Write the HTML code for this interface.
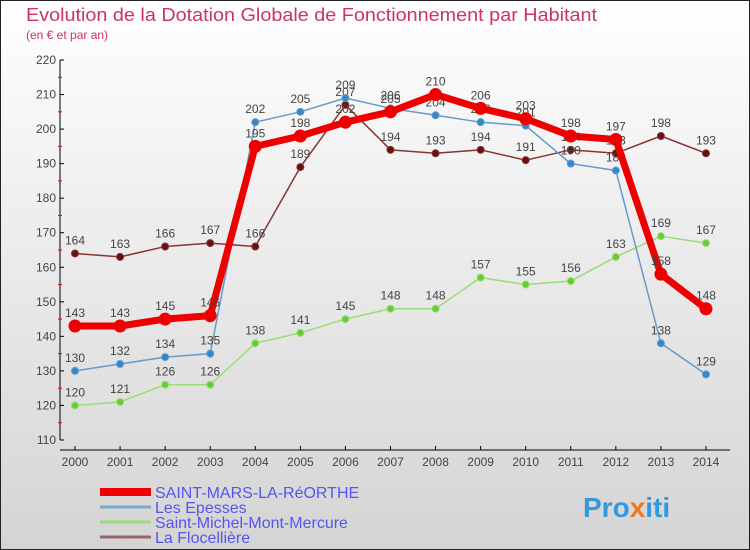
<!DOCTYPE html>
<html><head><meta charset="utf-8"><style>
body{margin:0;width:750px;height:550px;overflow:hidden;font-family:"Liberation Sans",sans-serif}
svg{display:block}
</style></head><body>
<svg id="c" width="750" height="550" xmlns="http://www.w3.org/2000/svg">
<defs><linearGradient id="bg" x1="0" y1="0" x2="0" y2="1"><stop offset="0" stop-color="#ffffff"/><stop offset="1" stop-color="#d4d4d4"/></linearGradient></defs>
<rect x="0.5" y="0.5" width="749" height="549" fill="url(#bg)" stroke="#222"/>
<text x="26" y="21" font-size="18" fill="#cc3366" textLength="571" lengthAdjust="spacingAndGlyphs">Evolution de la Dotation Globale de Fonctionnement par Habitant</text>
<text x="26" y="39" font-size="12" fill="#cc3366">(en € et par an)</text>
<g id="axes"></g><g id="series"></g><g id="legend"></g>
<text x="583" y="517" font-size="28" font-weight="bold" fill="#3399dd">Pro<tspan fill="#ee7722">x</tspan>iti</text>
</svg>
<script>
const years=[2000,2001,2002,2003,2004,2005,2006,2007,2008,2009,2010,2011,2012,2013,2014];
const yTicks=[110,120,130,140,150,160,170,180,190,200,210,220];
const saintMars=[143,143,145,146,195,198,202,205,210,206,203,198,197,158,148];
const lesEpesses=[130,132,134,135,202,205,209,206,204,202,201,190,188,138,129];
const saintMichel=[120,121,126,126,138,141,145,148,148,157,155,156,163,169,167];
const flocelliere=[164,163,166,167,166,189,207,194,193,194,191,194,193,198,193];
const seriesNames=["SAINT-MARS-LA-RéORTHE","Les Epesses","Saint-Michel-Mont-Mercure","La Flocellière"];
const NS="http://www.w3.org/2000/svg";
const X=i=>75+i*45.07;
const Y=v=>60+(220-v)*380/110;
function mk(tag,attrs,parent,text){const e=document.createElementNS(NS,tag);for(const k in attrs)e.setAttribute(k,attrs[k]);if(text!==undefined)e.textContent=text;parent.appendChild(e);return e;}
const ax=document.getElementById('axes');
let l=mk('line',{x1:60,y1:60,x2:60,y2:440,stroke:'#000'},ax);


l=mk('line',{x1:60,y1:450,x2:730,y2:450,stroke:'#000'},ax);


yTicks.forEach((v,i)=>{
  mk('line',{x1:60,y1:Y(v),x2:64,y2:Y(v),stroke:'#000'},ax);
  if(i<yTicks.length-1)mk('line',{x1:58,y1:Y(v+5),x2:62,y2:Y(v+5),stroke:'#e00'},ax);
  const t=mk('text',{x:56,y:Y(v)+4,'font-size':12,fill:'#444','text-anchor':'end'},ax,v);
  
  
});
years.forEach((yr,i)=>{
  mk('line',{x1:X(i),y1:446,x2:X(i),y2:450,stroke:'#000'},ax);
  const t=mk('text',{x:X(i),y:466,'font-size':12,fill:'#444','text-anchor':'middle'},ax,yr);
  
  
});
const sg=document.getElementById('series');
function draw(data,color,w,r,dot,name){
  const g=mk('g',{},sg);
  
  
  mk('polyline',{points:data.map((v,i)=>X(i)+','+Y(v)).join(' '),fill:'none',stroke:color,'stroke-width':w,'stroke-linejoin':'round'},g);
  data.forEach((v,i)=>{
    const c=mk('circle',{cx:X(i),cy:Y(v),r:r,fill:dot,stroke:color,'stroke-width':1},g);
    
    
    const t=mk('text',{x:X(i),y:Y(v)-9,'font-size':12,fill:'#444','text-anchor':'middle'},g,v);
    
    
  });
}
draw(flocelliere,'#883333',1.5,3.5,'#661111','flocelliere-series');
draw(saintMichel,'#99dd77',1.5,3.5,'#66cc33','saint-michel-series');
draw(lesEpesses,'#6699cc',1.5,3.5,'#3388cc','les-epesses-series');
draw(saintMars,'#ee0000',7,6,'#ee0000','saint-mars-series');
const lg=document.getElementById('legend');
const lc=['#ee0000','#77aacc','#99dd77','#996666'],lw=[8,3,3,3];
seriesNames.forEach((n,i)=>{
  const y=492+i*15;
  const g=mk('g',{},lg);
  
  
  mk('line',{x1:100,y1:y,x2:151,y2:y,stroke:lc[i],'stroke-width':lw[i]},g);
  mk('text',{x:155,y:y+6,'font-size':16,fill:'#5555ee'},g,n);
});
</script>
</body></html>
